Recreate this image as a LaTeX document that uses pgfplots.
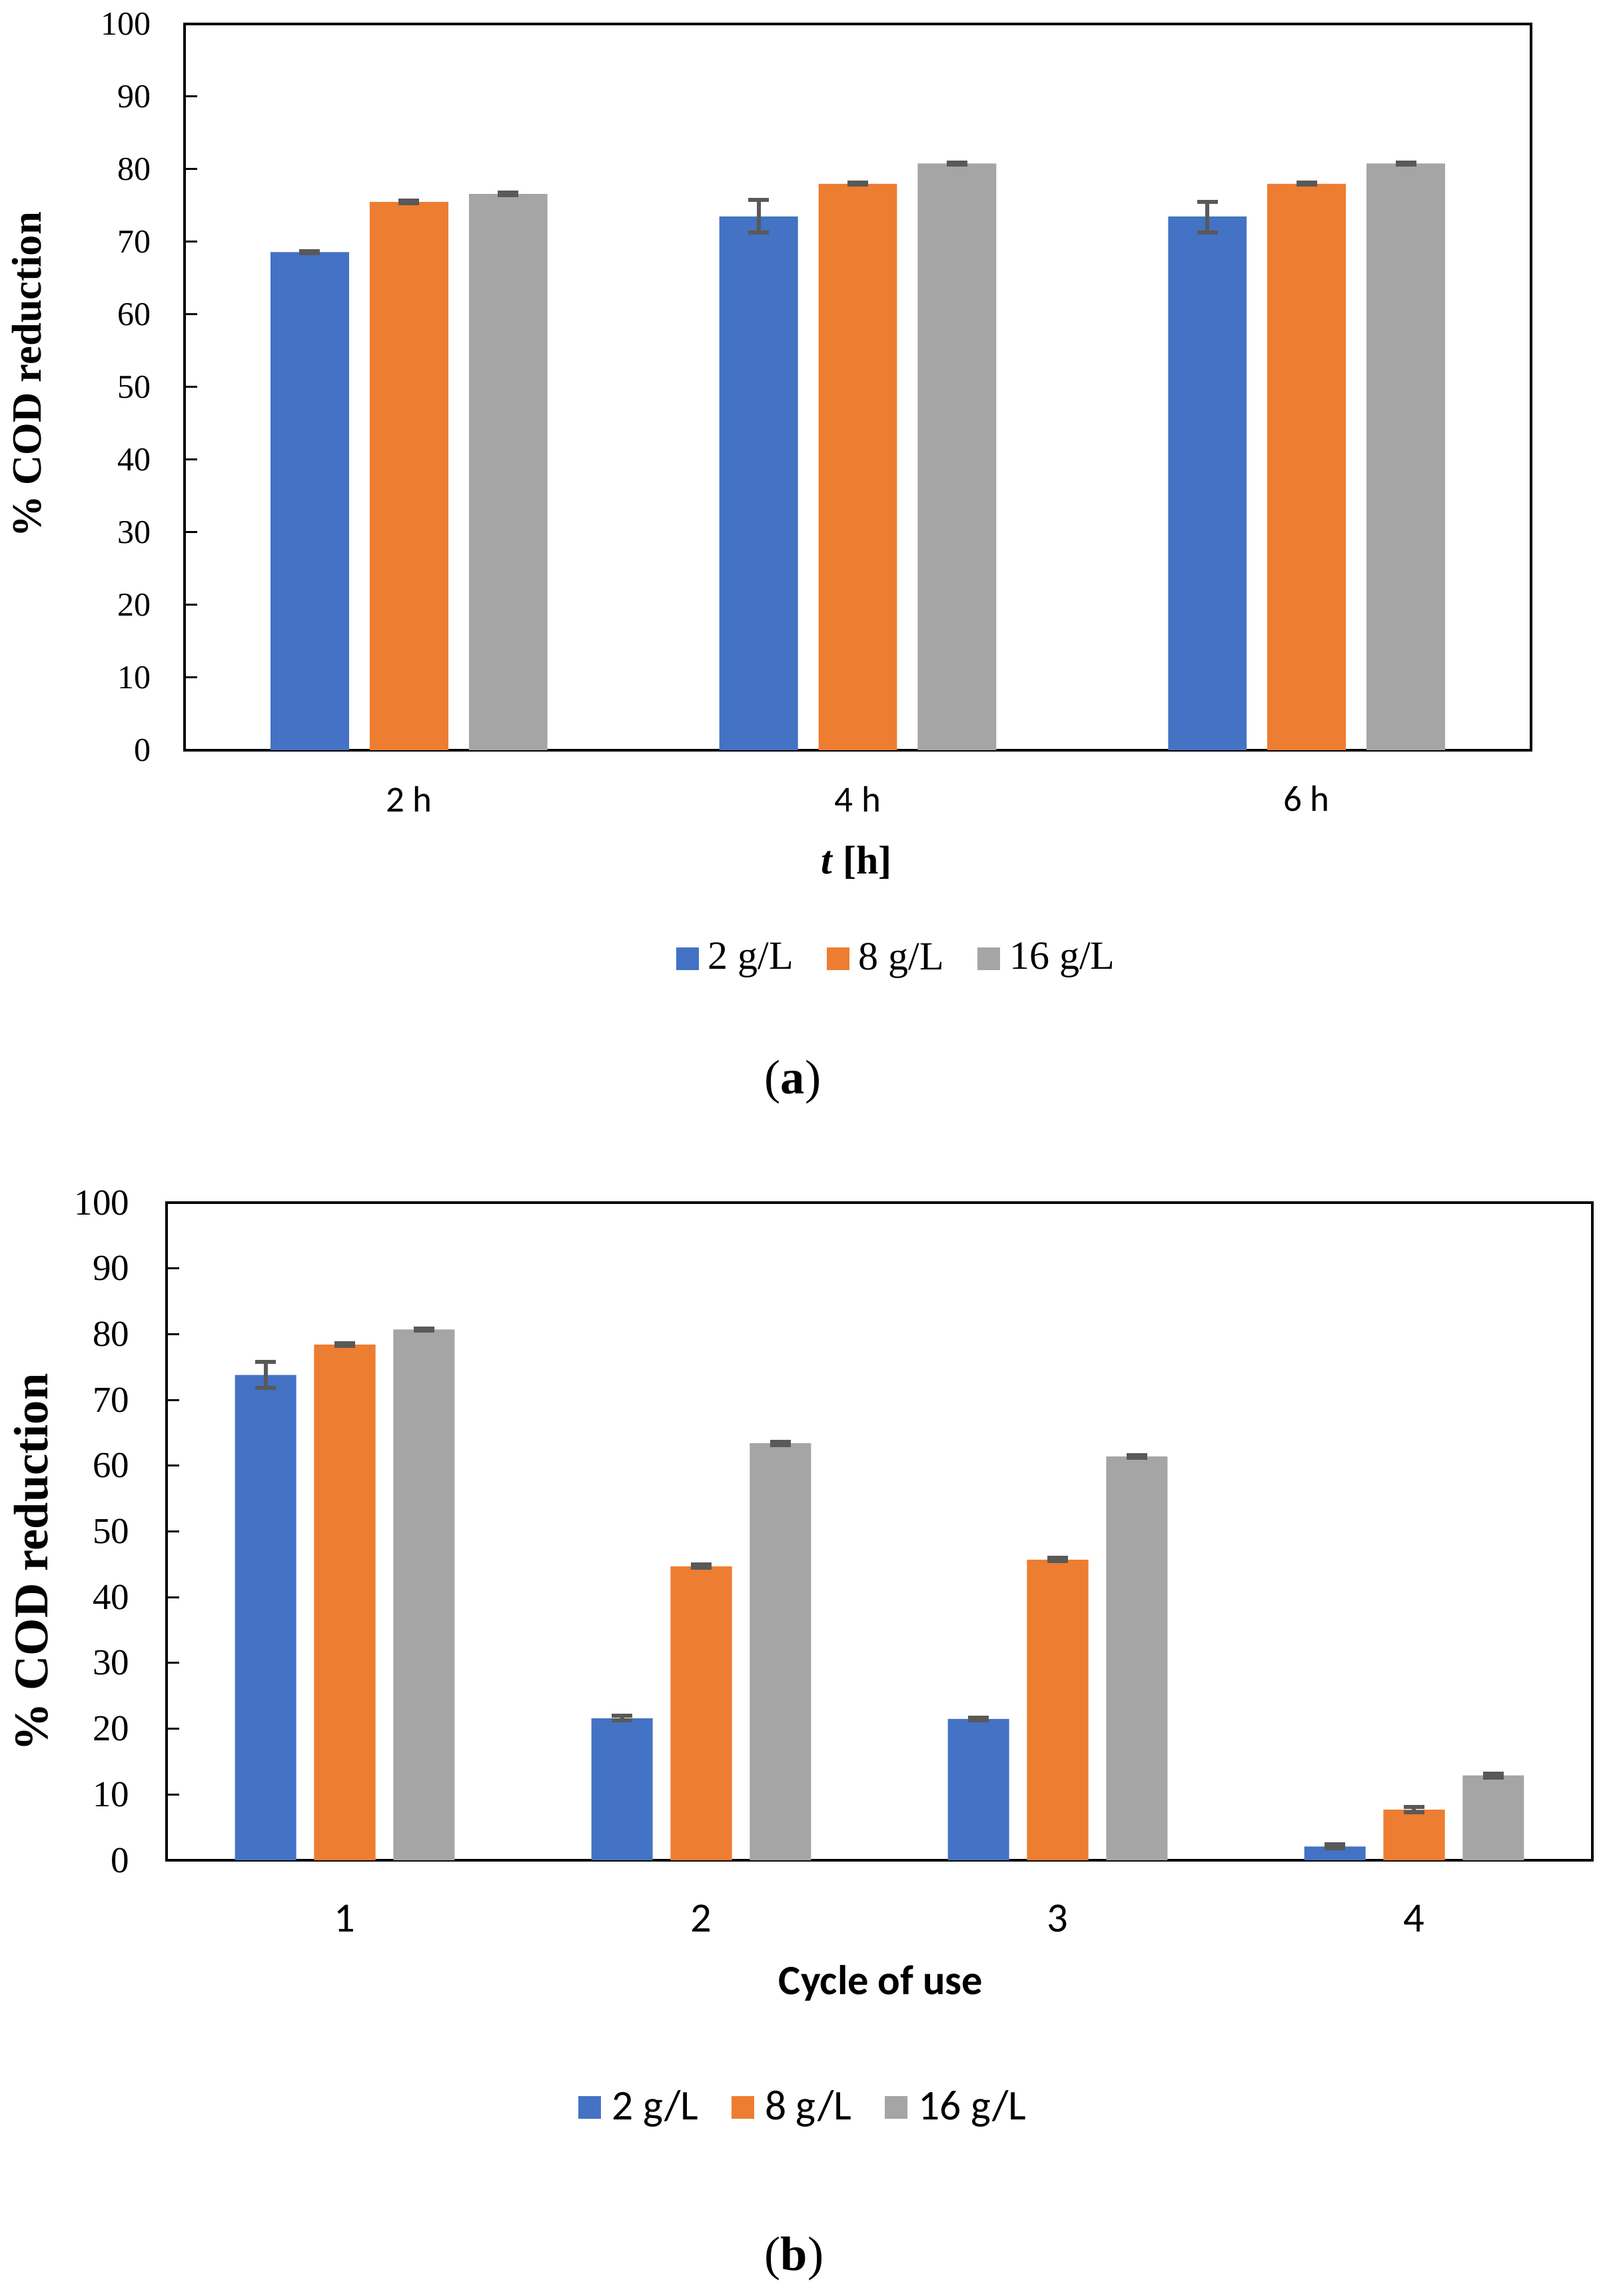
\documentclass[border=0pt]{standalone}
\usepackage{fontspec}
\setmainfont{Liberation Serif}
\newfontfamily\carlito{Carlito}
\usepackage{pgfplots}
\usepackage{pgfplotstable}
\pgfplotsset{compat=1.18}

\definecolor{cblue}{HTML}{4472C4}
\definecolor{corange}{HTML}{ED7D31}
\definecolor{cgray}{HTML}{A5A5A5}
\definecolor{errgray}{HTML}{595959}

% time series (a): value, error plus, error minus for 2, 8, 16 g/L
\pgfplotstableread{
x  b    bp   bm   o    op   om   g    gp   gm
0  68.6 0.15 0.15 75.5 0.15 0.15 76.6 0.15 0.15
1  73.5 2.3  2.2  78.0 0.15 0.15 80.8 0.15 0.15
2  73.5 2.0  2.2  78.0 0.15 0.15 80.8 0.15 0.15
}\timedata

% cycles of use (b)
\pgfplotstableread{
x  b    bp   bm   o    op   om   g    gp   gm
0  73.8 2.0  2.0  78.4 0.2  0.2  80.7 0.2  0.2
1  21.6 0.35 0.35 44.7 0.25 0.25 63.4 0.25 0.25
2  21.5 0.2  0.2  45.7 0.25 0.25 61.4 0.25 0.25
3  2.1  0.3  0.3  7.7  0.4  0.4  12.9 0.3  0.3
}\cycledata

\pgfplotsset{
  codbars/.style={
    scale only axis,
    ybar, bar width=0.175,
    ymin=0, ymax=100, ytick={0,10,...,100},
    yticklabel={\rmfamily\pgfmathprintnumber[assume math mode=true]{\tick}},
    ytick pos=left, tick align=inside, major tick length=3.8pt,
    xtick style={draw=none},
    axis line style={line width=0.7pt},
    every tick/.style={black, line width=0.6pt},
    error bars/y dir=both,
    error bars/y explicit,
    error bars/error bar style={errgray, line width=1.2pt},
    error bars/error mark options={errgray, line width=1.2pt, mark size=3.1pt, rotate=90},
    legend columns=3,
    legend image code/.code={\fill[##1] (0pt,-3.4pt) rectangle (6.8pt,3.4pt);},
    legend style={draw=none, fill=none, inner sep=0pt, anchor=center,
      nodes={inner sep=0pt, anchor=west},
      /tikz/every odd column/.append style={column sep=2.8pt},
      /tikz/every even column/.append style={column sep=10pt}},
  },
}

\begin{document}
\begin{tikzpicture}
\useasboundingbox (0,0) rectangle (482.4pt,689.2pt);

\begin{axis}[codbars,
  at={(55.4pt,464pt)}, anchor=south west,
  width=404.2pt, height=218pt,
  xmin=-0.5, xmax=2.5,
  xtick={0,1,2}, xticklabels={2 h,4 h,6 h},
  xticklabel style={font=\carlito\fontsize{11}{13}\selectfont, anchor=center, yshift=-14.6pt},
  yticklabel style={font=\rmfamily\fontsize{10}{12}\selectfont, anchor=east, inner sep=0pt, xshift=-9.8pt},
  xlabel={\textbf{\textit{t} [h]}},
  xlabel style={font=\fontsize{12}{14}\selectfont, at={(axis description cs:0.499,-0.155)}, anchor=center},
  ylabel={\textbf{\% COD reduction}},
  ylabel style={font=\fontsize{12.5}{15}\selectfont, at={(axis description cs:-0.117,0.517)}, anchor=center},
  legend style={at={(0.528,-0.287)}, font=\fontsize{12}{14}\selectfont},
]
\addplot[fill=cblue, draw=none, bar shift=-0.221]
  table[x=x, y=b, y error plus=bp, y error minus=bm] {\timedata};
\addplot[fill=corange, draw=none, bar shift=0]
  table[x=x, y=o, y error plus=op, y error minus=om] {\timedata};
\addplot[fill=cgray, draw=none, bar shift=0.221]
  table[x=x, y=g, y error plus=gp, y error minus=gm] {\timedata};
\legend{2 g/L, 8 g/L, 16 g/L}
\end{axis}

\node[font=\fontsize{14.5}{17}\selectfont] at (238pt,364.4pt) {(\textbf{a})};

\begin{axis}[codbars,
  at={(50pt,130.8pt)}, anchor=south west,
  width=428pt, height=197.4pt,
  bar width=0.172,
  xmin=-0.5, xmax=3.5,
  xtick={0,1,2,3}, xticklabels={1,2,3,4},
  xticklabel style={font=\carlito\fontsize{12.5}{15}\selectfont, anchor=center, yshift=-17.4pt},
  yticklabel style={font=\rmfamily\fontsize{11}{13}\selectfont, anchor=east, inner sep=0pt, xshift=-11pt},
  xlabel={\textbf{Cycle of use}},
  xlabel style={font=\carlito\fontsize{12.5}{15}\selectfont, at={(axis description cs:0.501,-0.187)}, anchor=center},
  ylabel={\textbf{\% COD reduction}},
  ylabel style={font=\fontsize{14.5}{17}\selectfont, at={(axis description cs:-0.095,0.453)}, anchor=center},
  legend style={at={(0.446,-0.376)}, font=\carlito\fontsize{12.7}{15}\selectfont,
    /tikz/every odd column/.append style={column sep=3.2pt}},
]
\addplot[fill=cblue, draw=none, bar shift=-0.222]
  table[x=x, y=b, y error plus=bp, y error minus=bm] {\cycledata};
\addplot[fill=corange, draw=none, bar shift=0]
  table[x=x, y=o, y error plus=op, y error minus=om] {\cycledata};
\addplot[fill=cgray, draw=none, bar shift=0.222]
  table[x=x, y=g, y error plus=gp, y error minus=gm] {\cycledata};
\legend{2 g/L, 8 g/L, 16 g/L}
\end{axis}

\node[font=\fontsize{14.5}{17}\selectfont] at (238.4pt,11.2pt) {(\textbf{b})};
\end{tikzpicture}
\end{document}
